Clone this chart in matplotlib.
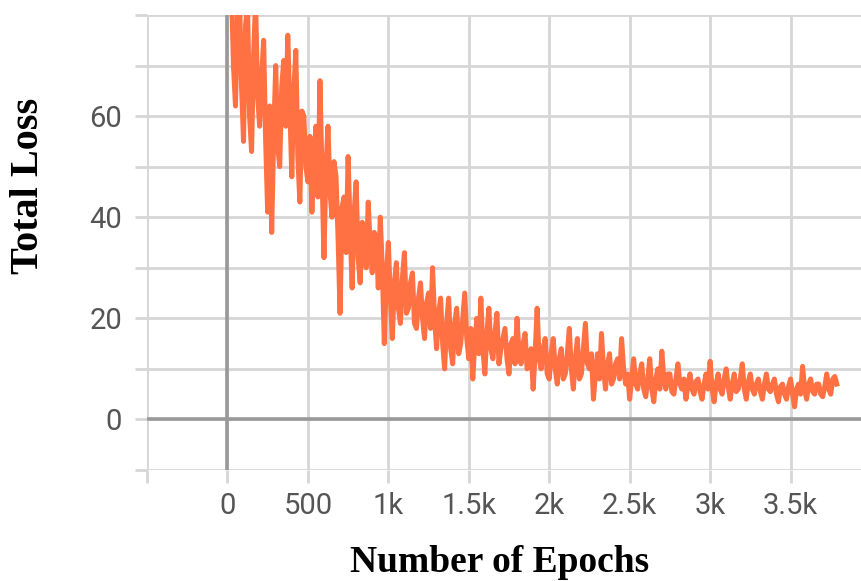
import numpy as np
import matplotlib.pyplot as plt

# loss values, every 12.5 epochs
loss = [85, 70, 62, 80, 84, 66, 55, 78, 82, 60,
        53, 72, 83, 64, 58, 68, 75, 55, 41, 62,
        37, 56, 70, 54, 50, 66, 71, 58, 76, 62,
        48, 65, 73, 52, 43, 61, 60, 50, 47, 56,
        41, 52, 58, 44, 67, 49, 32, 50, 58, 45,
        40, 51, 48, 36, 21, 42, 44, 33, 52, 38,
        26, 41, 47, 32, 27, 39, 38, 30, 43, 34,
        29, 37, 36, 26, 40, 30, 15, 28, 35, 24,
        16, 27, 31, 22, 19, 28, 33, 21, 22, 27,
        29, 19, 18, 24, 27, 20, 16, 23, 25, 18,
        30, 20, 14, 21, 24, 15, 10, 19, 24, 14,
        11, 19, 22, 13, 15, 20, 25, 16, 12, 18,
        8, 15, 20, 13, 24, 14, 9, 17, 22, 14,
        12, 17, 21, 11, 14, 16, 18, 12, 9, 15,
        16, 11, 20, 13, 11, 15, 17, 10, 12, 14,
        6, 13, 22, 12, 10, 14, 16, 9, 8, 13,
        16, 10, 7, 12, 14, 8, 9, 13, 18, 10,
        6, 12, 16, 8, 9, 14, 19, 11, 10, 13,
        4, 9, 13, 8, 17, 10, 6, 11, 13, 7,
        8, 11, 12, 8, 16, 10, 7, 9, 4, 8,
        12, 7, 6, 9, 11, 6, 4.5, 8, 12, 6,
        3.5, 8, 10, 6, 13.5, 8, 6, 9, 9, 5.5,
        5, 8, 11, 7, 6, 8, 4, 7, 9, 6,
        5, 7.5, 8, 5.5, 4, 7, 9, 6, 11.5, 6,
        3.5, 7, 9, 6, 5, 8, 10, 6.5, 4, 7,
        9, 5.5, 6, 8, 11, 6, 4, 7.5, 9, 6,
        5, 7, 8, 5.5, 4, 7, 9, 6, 5.5, 7,
        8, 5, 3.5, 6.5, 7, 5, 4, 6.5, 8, 5,
        2.5, 6, 7, 5, 10.5, 6, 4, 7, 8, 5.5,
        5, 7, 7, 5, 4.5, 6.5, 9, 6, 5, 8,
        8.5, 7]
epochs = list(25 + 12.5 * np.arange(len(loss)))

xticks = [-500, 0, 500, 1000, 1500, 2000, 2500, 3000, 3500]
xlabels = ['', '0', '500', '1k', '1.5k', '2k', '2.5k', '3k', '3.5k']
yticks = [-10, 0, 10, 20, 30, 40, 50, 60, 70, 80]
ylabels = ['', '0', '', '20', '', '40', '', '60', '', '']

fig = plt.figure(figsize=(8.61, 5.81), dpi=100)
ax = fig.add_axes([147/861, 1 - 470/581, 1 - 147/861, (470 - 15)/581])

ax.plot(epochs, loss, color='#FF7043', lw=3.6, zorder=3)

ax.set_xlim(-500, 3938)
ax.set_ylim(-10, 80)
ax.set_xticks(xticks)
ax.set_xticklabels(xlabels)
ax.set_yticks(yticks)
ax.set_yticklabels(ylabels)

ax.grid(True, color='#d6d6d6', lw=2)
ax.axhline(0, color='#999999', lw=2.6, zorder=2)
ax.axvline(0, color='#999999', lw=2.6, zorder=2)
for s in ax.spines.values():
    s.set_visible(False)

ax.tick_params(axis='both', length=9, width=2, color='#d6d6d6',
               labelcolor='#555555', labelsize=21)
ax.tick_params(axis='x', pad=7)
ax.tick_params(axis='y', pad=9)
for lab in ax.get_xticklabels() + ax.get_yticklabels():
    lab.set_family('Roboto')

fig.text(500/861, 1 - 562/581, 'Number of Epochs', ha='center', va='center',
         family='Liberation Serif', weight='bold', fontsize=27)
fig.text(28/861, 1 - 186/581, 'Total Loss', ha='center', va='center', rotation=90,
         family='Liberation Serif', weight='bold', fontsize=29)

fig.savefig('out.png', dpi=100)
